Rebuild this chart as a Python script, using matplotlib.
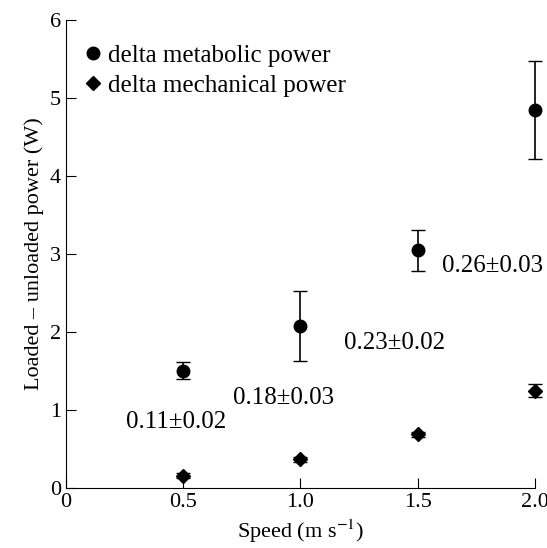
import numpy as np
import matplotlib.pyplot as plt

plt.rcParams['font.family'] = ['Liberation Serif', 'DejaVu Serif']
plt.rcParams['mathtext.fontset'] = 'stix'

speed = [0.5, 1.0, 1.5, 2.0]
metab = [1.50, 2.08, 3.05, 4.84]
metab_lo = [1.40, 1.63, 2.78, 4.22]
metab_hi = [1.62, 2.53, 3.31, 5.47]
mech = [0.16, 0.37, 0.69, 1.25]
mech_lo = [0.13, 0.34, 0.66, 1.17]
mech_hi = [0.19, 0.40, 0.72, 1.33]
labels = ['0.11±0.02', '0.18±0.03', '0.23±0.02', '0.26±0.03']
label_x = [0.47, 0.93, 1.40, 1.82]
label_y = [0.85, 1.15, 1.86, 2.85]

fig = plt.figure(figsize=(5.47, 5.48), dpi=100)
ax = fig.add_axes([0.12, 0.109, 0.858, 0.855])

m = np.array(metab)
ax.errorbar(speed, metab, yerr=[m - metab_lo, np.array(metab_hi) - m],
            fmt='o', color='black', ms=9, capsize=5, elinewidth=1.2,
            label='delta metabolic power', clip_on=False)
k = np.array(mech)
ax.errorbar(speed, mech, yerr=[k - mech_lo, np.array(mech_hi) - k],
            fmt='D', color='black', ms=7, capsize=5, elinewidth=1.2,
            label='delta mechanical power', clip_on=False)

for x, y, t in zip(label_x, label_y, labels):
    ax.text(x, y, t, ha='center', va='center', fontsize=18)

ax.set_xlim(0, 2.0)
ax.set_ylim(0, 6)
ax.set_xticks([0, 0.5, 1.0, 1.5, 2.0])
ax.set_xticklabels(['0', '0.5', '1.0', '1.5', '2.0'])
ax.set_yticks(range(7))
ax.spines['top'].set_visible(False)
ax.spines['right'].set_visible(False)
ax.tick_params(direction='in', labelsize=16, length=7)
ax.set_xlabel('Speed (m s$^{-1}$)', fontsize=16)
ax.set_ylabel('Loaded – unloaded power (W)', fontsize=16)

handles, labs = ax.get_legend_handles_labels()
handles = [h[0] for h in handles]
ax.legend(handles, labs, loc='upper left', bbox_to_anchor=(0.0, 0.98),
          frameon=False, fontsize=18, handletextpad=0.1, borderaxespad=0.2,
          labelspacing=0.3, handlelength=1.0)

fig.savefig('out.png')
